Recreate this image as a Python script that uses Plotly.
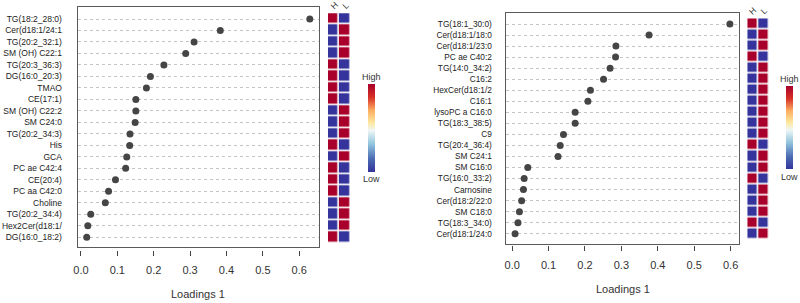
import plotly.graph_objects as go

# ---------------- data ----------------
left_labels = ["TG(18:2_28:0)", "Cer(d18:1/24:1", "TG(20:2_32:1)", "SM (OH) C22:1", "TG(20:3_36:3)",
               "DG(16:0_20:3)", "TMAO", "CE(17:1)", "SM (OH) C22:2", "SM C24:0",
               "TG(20:2_34:3)", "His", "GCA", "PC ae C42:4", "CE(20:4)",
               "PC aa C42:0", "Choline", "TG(20:2_34:4)", "Hex2Cer(d18:1/", "DG(16:0_18:2)"]
left_values = [0.629, 0.383, 0.311, 0.288, 0.228, 0.191, 0.180, 0.151, 0.151, 0.149,
               0.135, 0.134, 0.126, 0.123, 0.095, 0.076, 0.067, 0.027, 0.019, 0.016]
left_H = [1, 0, 0, 0, 1, 1, 1, 1, 0, 0, 0, 1, 0, 1, 1, 1, 0, 0, 0, 1]
left_L = [1 - v for v in left_H]

right_labels = ["TG(18:1_30:0)", "Cer(d18:1/18:0", "Cer(d18:1/23:0", "PC ae C40:2", "TG(14:0_34:2)",
                "C16:2", "HexCer(d18:1/2", "C16:1", "lysoPC a C16:0", "TG(18:3_38:5)",
                "C9", "TG(20:4_36:4)", "SM C24:1", "SM C16:0", "TG(16:0_33:2)",
                "Carnosine", "Cer(d18:2/22:0", "SM C18:0", "TG(18:3_34:0)", "Cer(d18:1/24:0"]
right_values = [0.598, 0.376, 0.285, 0.284, 0.269, 0.251, 0.215, 0.208, 0.173, 0.173,
                0.141, 0.132, 0.126, 0.043, 0.033, 0.031, 0.026, 0.020, 0.016, 0.008]
right_H = [1, 0, 0, 1, 0, 0, 0, 0, 0, 0, 0, 1, 0, 0, 1, 0, 0, 0, 1, 0]
right_L = [1 - v for v in right_H]

groups = ["H", "L"]
x_ticks = [0.0, 0.1, 0.2, 0.3, 0.4, 0.5, 0.6]
x_ticktext = ["0.0", "0.1", "0.2", "0.3", "0.4", "0.5", "0.6"]
axis_title = "Loadings 1"

# ---------------- style ----------------
W, H = 800, 303
FONT = "Liberation Sans, Arial, sans-serif"
DOT = "#454545"
colorscale = [[0.0, "#34349c"], [0.15, "#4a6cb3"], [0.32, "#92c5de"], [0.47, "#eef6f6"],
              [0.56, "#fee8a0"], [0.7, "#fdae61"], [0.85, "#d73027"], [1.0, "#a8002a"]]


def px_x(v):
    return v / W


def px_y(v):
    return 1 - v / H


fig = go.Figure()


def panel(labels, values, Hc, Lc, ax, box, row0, pitch, xr, tick_y, hm_x, cb, high_y, low_y,
          lab_size, standoff, label_y, title_y, hl_y):
    # ax: dict with axis ids
    xa, xt, xh, ya, yh = ax
    left, top, right, bottom = box
    ybot = (bottom - row0) / pitch
    ytop = (top - row0) / pitch
    yrange = [ybot, ytop]
    ydom = [px_y(bottom), px_y(top)]

    fig.add_trace(go.Scatter(x=values, y=labels, mode="markers", xaxis=xa, yaxis=ya,
                             marker=dict(size=7, color=DOT), showlegend=False,
                             hoverinfo="skip", cliponaxis=False))
    # dummy trace for tick axis
    fig.add_trace(go.Scatter(x=[x_ticks[0]], y=[labels[0]], mode="markers", xaxis=xt, yaxis=ya,
                             marker=dict(size=1, opacity=0), showlegend=False, hoverinfo="skip"))
    z = [[h, l] for h, l in zip(Hc, Lc)]
    fig.add_trace(go.Heatmap(z=z, x=groups, y=labels, xaxis=xh, yaxis=yh,
                             colorscale=colorscale, zmin=0, zmax=1, xgap=1.6, ygap=1.6,
                             hoverinfo="skip",
                             colorbar=dict(x=px_x(cb[0]), xanchor="left", xpad=0, ypad=0,
                                           y=px_y((cb[1] + cb[2]) / 2), yanchor="middle",
                                           len=(cb[2] - cb[1]) / H, lenmode="fraction",
                                           thickness=7, thicknessmode="pixels",
                                           outlinewidth=0, showticklabels=False, ticks="")))

    def key(a):
        return a.replace("x", "xaxis").replace("y", "yaxis") if len(a) > 1 else \
            ("xaxis" if a == "x" else "yaxis")

    fig.layout[key(xa)] = dict(domain=[px_x(left), px_x(right)], range=xr, anchor=ya,
                               showline=True, mirror=True, linecolor="#5a5a5a", linewidth=1,
                               ticks="", showticklabels=False, showgrid=False, zeroline=False)
    fig.layout[key(xt)] = dict(domain=[px_x(left), px_x(right)], range=xr, overlaying=xa,
                               anchor="free", position=px_y(tick_y), showline=False,
                               ticks="outside", ticklen=5, tickcolor="#444", tickwidth=1,
                               tickvals=x_ticks, ticktext=x_ticktext, showgrid=False,
                               zeroline=False, ticklabelstandoff=standoff,
                               tickfont=dict(family=FONT, size=11, color="#333"))
    fig.layout[key(ya)] = dict(domain=ydom, range=yrange, anchor=xa, type="category",
                               categoryorder="array", categoryarray=labels,
                               showline=True, mirror=True, linecolor="#5a5a5a", linewidth=1,
                               ticks="", showgrid=True, griddash="dot", gridcolor="#c4c4c4",
                               gridwidth=1, zeroline=False, ticklabelstandoff=label_y,
                               tickfont=dict(family=FONT, size=lab_size, color="#222"))
    fig.layout[key(xh)] = dict(domain=[px_x(hm_x[0]), px_x(hm_x[1])], range=[-0.5, 1.5],
                               anchor=yh, showticklabels=False, ticks="", showgrid=False,
                               zeroline=False, showline=False)
    fig.layout[key(yh)] = dict(domain=ydom, range=yrange, anchor=xh, type="category",
                               categoryorder="array", categoryarray=labels,
                               showticklabels=False, ticks="", showgrid=False,
                               zeroline=False, showline=False)
    # H / L labels
    for g in groups:
        fig.add_annotation(x=g, y=px_y(hl_y), xref=xh, yref="paper", text=g, showarrow=False,
                           textangle=-45, font=dict(family=FONT, size=8.5, color="#333"),
                           xanchor="center", yanchor="middle")
    # High / Low
    cx = cb[0] + 3.5
    fig.add_annotation(x=px_x(cx), y=px_y(high_y), xref="paper", yref="paper", text="High",
                       showarrow=False, font=dict(family=FONT, size=9, color="#333"),
                       xanchor="center", yanchor="middle")
    fig.add_annotation(x=px_x(cx), y=px_y(low_y), xref="paper", yref="paper", text="Low",
                       showarrow=False, font=dict(family=FONT, size=9, color="#333"),
                       xanchor="center", yanchor="middle")
    # axis title
    fig.add_annotation(x=px_x((left + right) / 2), y=px_y(title_y), xref="paper", yref="paper",
                       text=axis_title, showarrow=False,
                       font=dict(family=FONT, size=11, color="#333"),
                       xanchor="center", yanchor="middle")


panel(left_labels, left_values, left_H, left_L,
      ("x", "x2", "x3", "y", "y2"),
      (74, 7.3, 316.3, 246.7), 19.0, 11.49, [-0.009, 0.6535], 249.5,
      (325.5, 348.5), (365.7, 84, 171.7), 76.7, 179, 8.5, 5, 13, 294, 5.5)

panel(right_labels, right_values, right_H, right_L,
      ("x4", "x5", "x6", "y3", "y4"),
      (505, 12.7, 738.3, 244), 24.0, 11.04, [-0.0156, 0.622], 245,
      (747, 769.5), (785.7, 86, 169.3), 79, 177, 8.3, 5, 12, 289, 11.5)

fig.update_layout(width=W, height=H, margin=dict(l=0, r=0, t=0, b=0),
                  paper_bgcolor="white", plot_bgcolor="white", showlegend=False,
                  font=dict(family=FONT, color="#333"))

fig.write_html("out.html")
